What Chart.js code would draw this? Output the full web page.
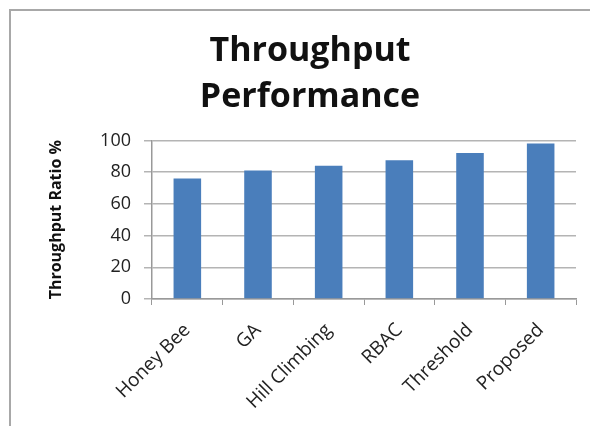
<!DOCTYPE html>
<html>
<head>
<meta charset="utf-8">
<script src="https://cdn.jsdelivr.net/npm/chart.js@4/dist/chart.umd.min.js"></script>
<style>
  body { margin: 0; background: #fff; }
  #marco {
    position: absolute; left: 9px; top: 9px; width: 600px; height: 440px;
    border-left: 2px solid #a8a8a8; border-top: 2px solid #a8a8a8;
  }
  #caja { position: absolute; left: 0; top: 0; width: 590px; height: 426px; }
</style>
</head>
<body>
<div id="marco"></div>
<div id="caja"><canvas id="grafico" width="590" height="426"></canvas></div>
<script>
const categorias = ["Honey Bee", "GA", "Hill Climbing", "RBAC", "Threshold", "Proposed"];
const valores = [76, 81, 84, 87.5, 92, 98];
const ticksY = [0, 20, 40, 60, 80, 100];

const fuente = "'Open Sans', 'DejaVu Sans', sans-serif";
const ctx = document.getElementById("grafico").getContext("2d");

new Chart(ctx, {
  type: "bar",
  data: {
    labels: categorias,
    datasets: [
      {
        label: "Throughput Ratio %",
        data: valores,
        backgroundColor: "#4a7ebb",
        borderWidth: 0,
        barPercentage: 0.39,
        categoryPercentage: 1,
      },
    ],
  },
  options: {
    responsive: false,
    animation: false,
    layout: { padding: { left: 44, right: 14, top: 0, bottom: 0 } },
    plugins: {
      legend: { display: false },
      tooltip: { enabled: false },
      title: {
        display: true,
        text: ["Throughput", "Performance"],
        color: "#111",
        font: { family: fuente, size: 34, weight: "bold", lineHeight: 1.33 },
        padding: { top: 29, bottom: 21 },
      },
    },
    scales: {
      x: {
        grid: {
          display: true,
          offset: true,
          drawOnChartArea: false,
          drawTicks: true,
          tickLength: 6,
          color: "#999",
        },
        border: { color: "#999", width: 1.5 },
        ticks: {
          color: "#222",
          font: { family: fuente, size: 19 },
          minRotation: 45,
          maxRotation: 45,
          padding: 14,
          labelOffset: 0,
        },
        afterFit: (escala) => { escala.height = 127; },
      },
      y: {
        min: 0,
        max: 100,
        afterBuildTicks: (escala) => {
          escala.ticks = ticksY.map((v) => ({ value: v }));
        },
        grid: { color: "#b4b4b4", lineWidth: 1.5, tickLength: 8 },
        border: { color: "#999", width: 1.5 },
        ticks: {
          color: "#222",
          font: { family: fuente, size: 18 },
          padding: 13,
        },
        title: {
          display: true,
          text: "Throughput Ratio %",
          color: "#111",
          font: { family: fuente, size: 16, weight: "bold" },
          padding: { top: 3, bottom: 0 },
        },
        afterFit: (escala) => { escala.width = 108; },
      },
    },
  },
});
</script>
</body>
</html>
